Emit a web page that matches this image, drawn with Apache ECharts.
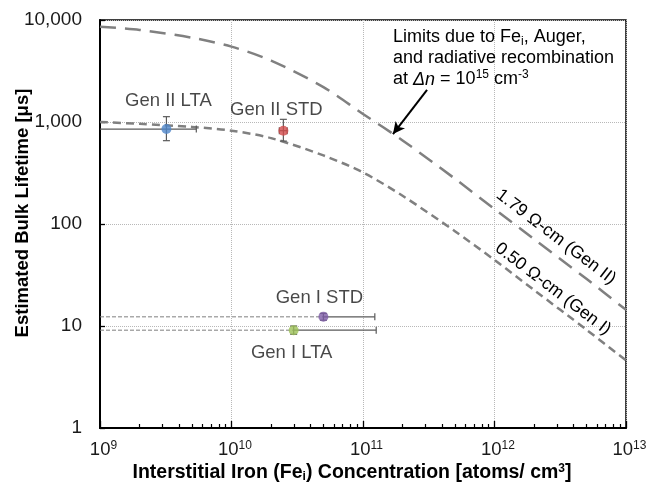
<!DOCTYPE html>
<html><head><meta charset="utf-8">
<script src="https://cdn.jsdelivr.net/npm/echarts@6/dist/echarts.min.js"></script>
<style>html,body{margin:0;padding:0;background:#fff}#c{width:654px;height:491px}</style>
</head><body><div id="c"></div>
<script>
// ---- data ----
const curveX = [1e9, 2e9, 5e9, 1e10, 2e10, 5e10, 1e11, 2e11, 5e11, 1e12, 2e12, 5e12, 1e13];
const genIICurve = [8600, 8000, 6700, 5480, 4000, 2200, 1200, 660, 278, 140, 71, 29, 14.4];
const genICurve  = [1000, 960, 895, 822, 695, 470, 320, 189, 85, 44.4, 22.5, 9.2, 4.6];

const pointNames = ['Gen II LTA', 'Gen II STD', 'Gen I STD', 'Gen I LTA'];
const pointX     = [3.2e9, 2.48e10, 5.0e10, 2.97e10];
const pointY     = [853, 822, 12.3, 9.1];
const xErrLow    = [6e8, 2.31e10, 5.0e10, 2.97e10];
const xErrHigh   = [5.4e9, 2.65e10, 1.23e11, 1.26e11];
const yErrLow    = [656, 650, 11.4, 8.3];
const yErrHigh   = [1128, 1062, 13.3, 10.0];
const pointColors = ['#4f86c9', '#d24b4b', '#7d5ba6', '#9cc158'];
const refLinePoints = [2, 3]; // points with a dashed guide to the y axis

const xTickExps = [9, 10, 11, 12, 13];
const yTickLabels = {1: '1', 10: '10', 100: '100', 1000: '1,000', 10000: '10,000'};
const minorMult = [2, 3, 4, 5, 6, 7, 8, 9];

const FONT = "'Liberation Sans', Arial, sans-serif";
const xMin = 1e9, xMax = 1e13, yMin = 1, yMax = 10000;

const minorTicks = [];
for (let d = 9; d < 13; d++) for (const m of minorMult) minorTicks.push(Math.log10(m) + d);

const chart = echarts.init(document.getElementById('c'), null, {renderer: 'canvas'});

const labelOffsets = [[2, -28], [-7, -21], [-4, -19], [-2, 23]];

const series = [
  {
    type: 'line', name: 'gen2', data: curveX.map((x, i) => [x, genIICurve[i]]),
    showSymbol: false, smooth: 0.3, z: 2,
    lineStyle: {color: '#808080', width: 2.5, type: [16, 9]},
    markLine: {
      silent: true, symbol: ['none', 'arrow'], symbolSize: [9, 12],
      label: {show: false},
      lineStyle: {color: '#000', width: 2, type: 'solid'},
      data: [[{coord: [3.07e11, 2060]}, {coord: [1.69e11, 762]}]]
    }
  },
  {
    type: 'line', name: 'gen1', data: curveX.map((x, i) => [x, genICurve[i]]),
    showSymbol: false, smooth: 0.3, z: 2,
    lineStyle: {color: '#808080', width: 2.5, type: [8, 5]}
  }
];
refLinePoints.forEach(i => {
  series.push({
    type: 'line', data: [[xMin, pointY[i]], [pointX[i], pointY[i]]],
    showSymbol: false, z: 3,
    lineStyle: {color: '#7f7f7f', width: 1, type: [4, 2]}
  });
});
series.push({
  type: 'custom', clip: true, z: 4,
  data: pointX.map((x, i) => [x, pointY[i], xErrLow[i], xErrHigh[i], yErrLow[i], yErrHigh[i]]),
  encode: {x: 0, y: 1},
  renderItem(params, api) {
    const x = api.value(0), y = api.value(1);
    const p = api.coord([x, y]);
    const xl = api.coord([api.value(2), y]);
    const xh = api.coord([api.value(3), y]);
    const yl = api.coord([x, api.value(4)]);
    const yh = api.coord([x, api.value(5)]);
    const c = 3.5;
    const style = {stroke: '#5a5a5a', lineWidth: 1.2};
    const ch = [
      {type: 'line', shape: {x1: xl[0], y1: p[1], x2: xh[0], y2: p[1]}, style},
      {type: 'line', shape: {x1: p[0], y1: yl[1], x2: p[0], y2: yh[1]}, style},
      {type: 'line', shape: {x1: p[0] - c, y1: yl[1], x2: p[0] + c, y2: yl[1]}, style},
      {type: 'line', shape: {x1: p[0] - c, y1: yh[1], x2: p[0] + c, y2: yh[1]}, style},
      {type: 'line', shape: {x1: xh[0], y1: p[1] - c, x2: xh[0], y2: p[1] + c}, style}
    ];
    if (xl[0] < p[0] - 1) ch.push({type: 'line', shape: {x1: xl[0], y1: p[1] - c, x2: xl[0], y2: p[1] + c}, style});
    return {type: 'group', children: ch};
  }
});
series.push({
  type: 'scatter', z: 5, symbolSize: 10,
  data: pointX.map((x, i) => ({
    value: [x, pointY[i]], name: pointNames[i],
    itemStyle: {color: pointColors[i]},
    label: {show: true, position: 'inside', offset: labelOffsets[i], formatter: pointNames[i],
            color: '#1a1a1a', fontSize: 18.5, fontFamily: FONT}
  }))
});

const option = {
  animation: false,
  backgroundColor: '#fff',
  grid: {left: 100, top: 20, right: 28, bottom: 63, outerBoundsMode: 'none', containLabel: false,
         show: true, borderColor: '#000', borderWidth: 1.5, backgroundColor: '#fff'},
  xAxis: [{
    type: 'log', logBase: 10, min: xMin, max: xMax,
    axisLine: {show: true, onZero: false, lineStyle: {color: '#000', width: 2}},
    axisTick: {show: true, inside: true, length: 7, lineStyle: {color: '#000', width: 1.3}},
    splitLine: {show: true, lineStyle: {color: '#b8b8b8', type: 'dotted', width: 1}},
    axisLabel: {
      margin: 12, padding: [0, 0, 0, 7],
      formatter: v => {
        const e = Math.round(Math.log10(v));
        return xTickExps.includes(e) ? '{b|10}{s|' + e + '}' : '';
      },
      rich: {
        b: {fontSize: 18.5, fontFamily: FONT, color: '#1a1a1a'},
        s: {fontSize: 12, fontFamily: FONT, color: '#1a1a1a', verticalAlign: 'top', padding: [0, 0, 6, 0]}
      }
    },
    name: 'Interstitial Iron (Fe{sub|i}) Concentration [atoms/ cm{sup|3}]',
    nameLocation: 'middle', nameGap: 35, nameMoveOverlap: false,
    nameTextStyle: {
      fontSize: 19.5, fontWeight: 'bold', fontFamily: FONT, color: '#000', padding: [0, 22, 0, 0],
      rich: {
        sub: {fontSize: 12, fontWeight: 'bold', fontFamily: FONT, color: '#000', verticalAlign: 'bottom'},
        sup: {fontSize: 12, fontWeight: 'bold', fontFamily: FONT, color: '#000', verticalAlign: 'top'}
      }
    }
  }, {
    type: 'value', min: 9, max: 13, position: 'bottom', gridIndex: 0,
    axisLine: {show: false}, axisLabel: {show: false}, splitLine: {show: false},
    axisTick: {show: true, inside: true, length: 4, customValues: minorTicks, lineStyle: {color: '#000', width: 1.2}}
  }],
  yAxis: {
    type: 'log', logBase: 10, min: yMin, max: yMax,
    axisLine: {show: true, onZero: false, lineStyle: {color: '#000', width: 2}},
    axisTick: {show: true, inside: true, length: 5, lineStyle: {color: '#000', width: 1.3}},
    splitLine: {show: true, lineStyle: {color: '#b8b8b8', type: 'dotted', width: 1}},
    axisLabel: {
      margin: 18, fontSize: 19, fontFamily: FONT, color: '#1a1a1a',
      formatter: v => yTickLabels[Math.round(v)] || ''
    },
    name: 'Estimated Bulk Lifetime [μs]',
    nameLocation: 'middle', nameGap: 68, nameRotate: 90, nameMoveOverlap: false,
    nameTextStyle: {fontSize: 18.5, fontWeight: 'bold', fontFamily: FONT, color: '#000', padding: [0, 0, 0, 22]}
  },
  series,
  graphic: [
    {
      type: 'text', x: 393, y: 27, z: 10,
      style: {
        text: 'Limits due to Fe{sub|i}, Auger,\nand radiative recombination\nat {it|Δn} = 10{sup|15} cm{sup|-3}',
        fontSize: 18, fontFamily: FONT, fill: '#000', lineHeight: 21, align: 'left', verticalAlign: 'top',
        rich: {
          sub: {fontSize: 12, fontFamily: FONT, fill: '#000', verticalAlign: 'bottom'},
          sup: {fontSize: 12, fontFamily: FONT, fill: '#000', verticalAlign: 'top', padding: [0, 0, 4, 0]},
          it: {fontSize: 18, fontFamily: FONT, fontStyle: 'italic', fill: '#000'}
        }
      }
    },
    {
      type: 'text', x: 556, y: 237, rotation: -37.3 * Math.PI / 180, z: 10,
      style: {text: '1.79 Ω-cm (Gen II)', fontSize: 17.5, fontFamily: FONT, fill: '#000', align: 'center', verticalAlign: 'middle'}
    },
    {
      type: 'text', x: 553, y: 289, rotation: -37.3 * Math.PI / 180, z: 10,
      style: {text: '0.50 Ω-cm (Gen I)', fontSize: 17.5, fontFamily: FONT, fill: '#000', align: 'center', verticalAlign: 'middle'}
    }
  ]
};
chart.setOption(option);
</script>
</body></html>
